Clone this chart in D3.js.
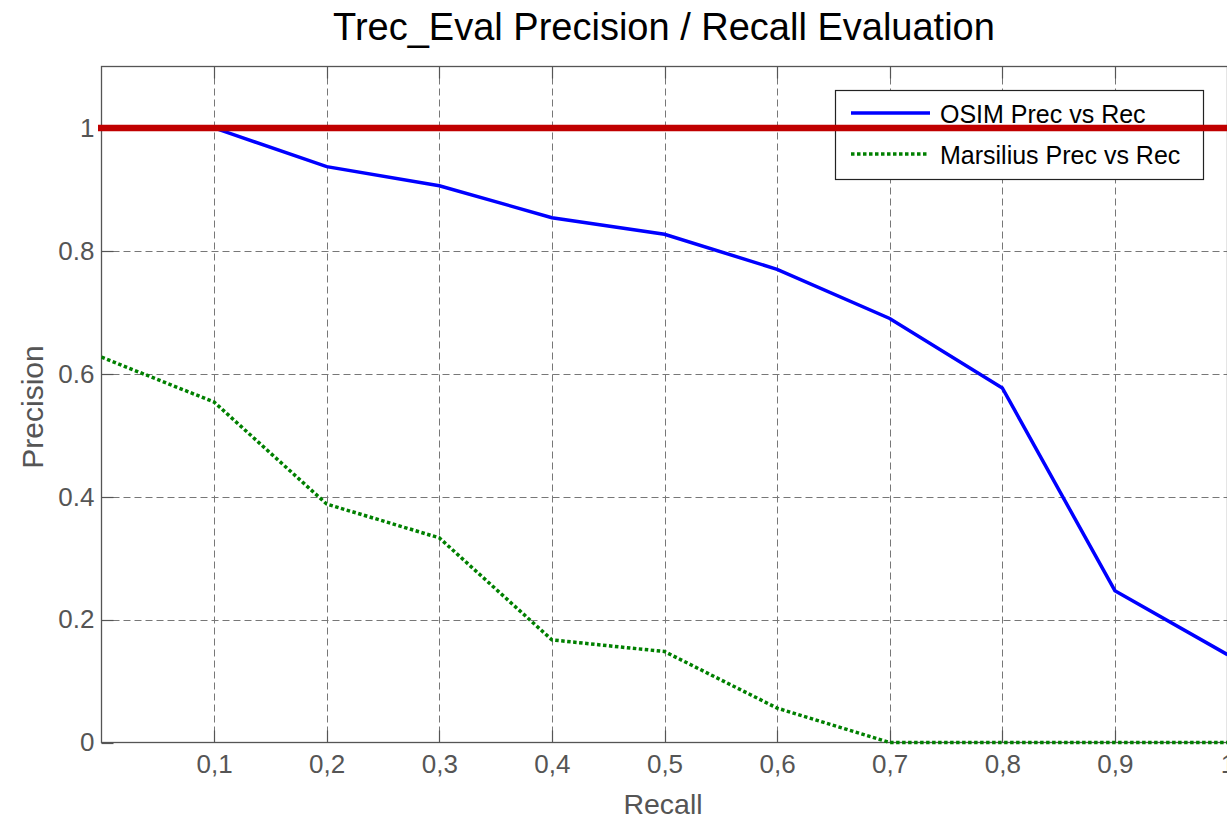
<!DOCTYPE html>
<html><head><meta charset="utf-8">
<script src="https://cdn.jsdelivr.net/npm/d3@7"></script>
<style>body{margin:0;background:#fff;}svg{display:block;font-family:Arial,"Liberation Sans",sans-serif;}</style>
</head><body><svg id="c" width="1227" height="819"></svg>
<script>
const recall = [0, 0.1, 0.2, 0.3, 0.4, 0.5, 0.6, 0.7, 0.8, 0.9, 1.0];
const osimPrecision = [1.0, 1.0, 0.937, 0.906, 0.854, 0.827, 0.770, 0.690, 0.577, 0.247, 0.143];
const marsiliusPrecision = [0.627, 0.554, 0.388, 0.333, 0.167, 0.148, 0.056, 0, 0, 0, 0];
const xTicks = [0.1, 0.2, 0.3, 0.4, 0.5, 0.6, 0.7, 0.8, 0.9, 1.0];
const xTickLabels = ["0,1","0,2","0,3","0,4","0,5","0,6","0,7","0,8","0,9","1"];
const yTicks = [0, 0.2, 0.4, 0.6, 0.8, 1.0];
const yTickLabels = ["0","0.2","0.4","0.6","0.8","1"];
const referenceLevel = 1.0;
const seriesNames = ["OSIM Prec vs Rec", "Marsilius Prec vs Rec"];

const svg = d3.select("#c");
const L = 101.5, R = 1227.5, T = 66.5, B = 742.5;
const x = d3.scaleLinear().domain([0, 1]).range([L, R]);
const y = d3.scaleLinear().domain([0, 1.1]).range([B, T]);
const grey = "#555";
const FF = "Arial, 'Liberation Sans', sans-serif";

// grid
const g = svg.append("g");
g.selectAll(".vg").data(xTicks).join("line")
  .attr("x1", d => Math.round(x(d)) + 0.5).attr("x2", d => Math.round(x(d)) + 0.5)
  .attr("y1", T).attr("y2", B)
  .attr("stroke", "#777").attr("stroke-width", 1).attr("stroke-dasharray", "7,4");
g.selectAll(".hg").data(yTicks.filter(d => d > 0)).join("line")
  .attr("x1", L).attr("x2", R)
  .attr("y1", d => Math.round(y(d)) + 0.5).attr("y2", d => Math.round(y(d)) + 0.5)
  .attr("stroke", "#777").attr("stroke-width", 1).attr("stroke-dasharray", "7,4");

// axes frame
svg.append("rect").attr("x", L).attr("y", T).attr("width", R - L).attr("height", B - T)
  .attr("fill", "none").attr("stroke", grey).attr("stroke-width", 1.3);

// x axis
const ax = d3.axisBottom(x).tickValues(xTicks).tickFormat((d, i) => xTickLabels[i]).tickSize(0).tickPadding(12);
const xa = svg.append("g").attr("transform", `translate(0,${B})`).call(ax);
xa.select(".domain").remove();
xa.selectAll("text").attr("fill", grey).attr("font-size", 26).attr("font-family", FF);
svg.selectAll(".xt").data(xTicks).join("line")
  .attr("x1", d => Math.round(x(d)) + 0.5).attr("x2", d => Math.round(x(d)) + 0.5)
  .attr("y1", B).attr("y2", B - 12).attr("stroke", grey).attr("stroke-width", 1.2);
svg.selectAll(".xtt").data(xTicks).join("line")
  .attr("x1", d => Math.round(x(d)) + 0.5).attr("x2", d => Math.round(x(d)) + 0.5)
  .attr("y1", T).attr("y2", T + 12).attr("stroke", grey).attr("stroke-width", 1.2);

// y axis
const ay = d3.axisLeft(y).tickValues(yTicks).tickFormat((d, i) => yTickLabels[i]).tickSize(0).tickPadding(7);
const ya = svg.append("g").attr("transform", `translate(${L},0)`).call(ay);
ya.select(".domain").remove();
ya.selectAll("text").attr("fill", grey).attr("font-size", 26).attr("font-family", FF);
svg.selectAll(".yt").data(yTicks).join("line")
  .attr("x1", L).attr("x2", L + 12)
  .attr("y1", d => Math.round(y(d)) + 0.5).attr("y2", d => Math.round(y(d)) + 0.5)
  .attr("stroke", grey).attr("stroke-width", 1.2);

// series
const line = d3.line().x((d, i) => x(recall[i])).y(d => y(d));
svg.append("path").datum(osimPrecision).attr("d", line)
  .attr("fill", "none").attr("stroke", "#0000ff").attr("stroke-width", 3.5);
svg.append("path").datum(marsiliusPrecision).attr("d", line)
  .attr("fill", "none").attr("stroke", "#008000").attr("stroke-width", 3.5).attr("stroke-dasharray", "3.5,2.5");

// legend
const lg = svg.append("g");
lg.append("rect").attr("x", 835.5).attr("y", 90.5).attr("width", 368).attr("height", 89)
  .attr("fill", "#fff").attr("stroke", "#222").attr("stroke-width", 1.2);
lg.append("line").attr("x1", 851).attr("x2", 930).attr("y1", 113).attr("y2", 113)
  .attr("stroke", "#0000ff").attr("stroke-width", 3.5);
lg.append("line").attr("x1", 851).attr("x2", 927).attr("y1", 154).attr("y2", 154)
  .attr("stroke", "#008000").attr("stroke-width", 3.5).attr("stroke-dasharray", "3.5,2.5");
lg.selectAll("text").data(seriesNames).join("text")
  .attr("x", 940).attr("y", (d, i) => 123 + i * 41).text(d => d)
  .attr("font-size", 25).attr("fill", "#000");

// reference line (drawn above legend, as in the original)
svg.append("line").attr("x1", x(0) - 3.5).attr("x2", R).attr("y1", y(referenceLevel)).attr("y2", y(referenceLevel))
  .attr("stroke", "#c00000").attr("stroke-width", 6.5);

// title & labels
svg.append("text").attr("x", 664).attr("y", 40).attr("text-anchor", "middle")
  .attr("font-size", 38).attr("fill", "#000").text("Trec_Eval Precision / Recall Evaluation");
svg.append("text").attr("x", 663).attr("y", 814).attr("text-anchor", "middle")
  .attr("font-size", 28.5).attr("fill", grey).text("Recall");
svg.append("text").attr("transform", `translate(43,407) rotate(-90)`).attr("text-anchor", "middle")
  .attr("font-size", 30).attr("fill", grey).text("Precision");
</script></body></html>
